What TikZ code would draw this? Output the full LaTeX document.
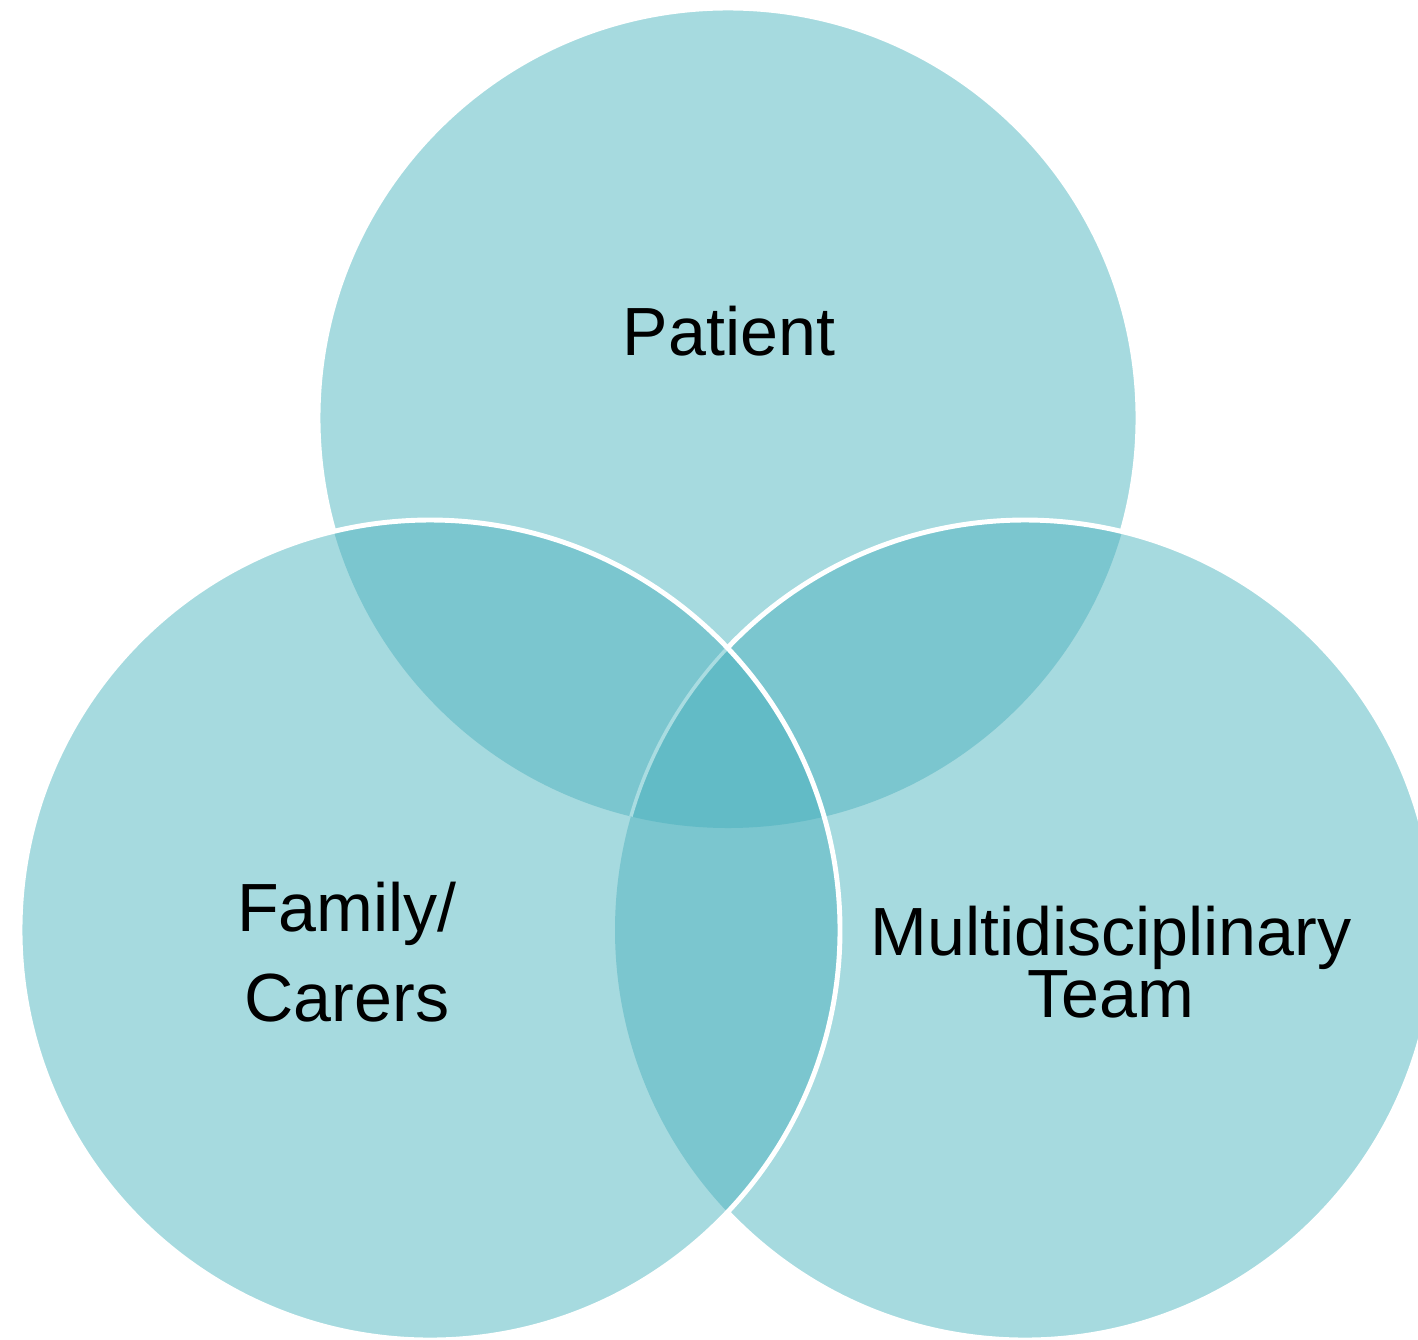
\documentclass[tikz,border=0pt]{standalone}
\usepackage{fontspec}
\setmainfont{Liberation Sans}
\definecolor{lightc}{HTML}{A6DADF}
\definecolor{medc}{HTML}{7BC6CF}
\definecolor{darkc}{HTML}{62BBC6}
\definecolor{palec}{HTML}{A9DCE1}
\newcommand\lblfont[1]{\fontsize{19.4}{#1}\selectfont\lineskiplimit=-30pt\relax}
\tikzset{
  outline/.style={draw=white, line width=1.4pt},
  label/.style={inner sep=0pt, align=center, text=black},
}
\begin{document}
\begin{tikzpicture}
\useasboundingbox (0,0) rectangle (14.18,-13.39);
\clip (0,0) rectangle (14.18,-13.39);
\def\rad{4.10}
\coordinate (T) at (7.28,-4.18);
\coordinate (L) at (4.30,-9.30);
\coordinate (R) at (10.25,-9.30);
% top circle
\fill[lightc] (T) circle (\rad);
\draw[outline] (T) circle (\rad);
% right circle
\fill[lightc] (R) circle (\rad);
\begin{scope}
  \clip (R) circle (\rad);
  \fill[medc] (T) circle (\rad);
\end{scope}
\draw[outline] (R) circle (\rad);
% left circle
\fill[lightc] (L) circle (\rad);
\begin{scope}
  \clip (L) circle (\rad);
  \fill[medc] (T) circle (\rad);
  \fill[medc] (R) circle (\rad);
  \clip (T) circle (\rad);
  \fill[darkc] (R) circle (\rad);
  \draw[palec, line width=1pt] (R) circle (\rad);
\end{scope}
\draw[outline] (L) circle (\rad);
% labels
\node[label, anchor=base, font=\lblfont{25}] (patient) at (7.29,-3.55) {Patient};
\node[label, anchor=base, font=\lblfont{25.4}] (family) at (3.47,-10.21) {Family/\\Carers};
\node[label, anchor=base, font=\lblfont{17.6}] (team) at (11.11,-10.17) {Multidisciplinary\\Team};
\end{tikzpicture}
\end{document}
